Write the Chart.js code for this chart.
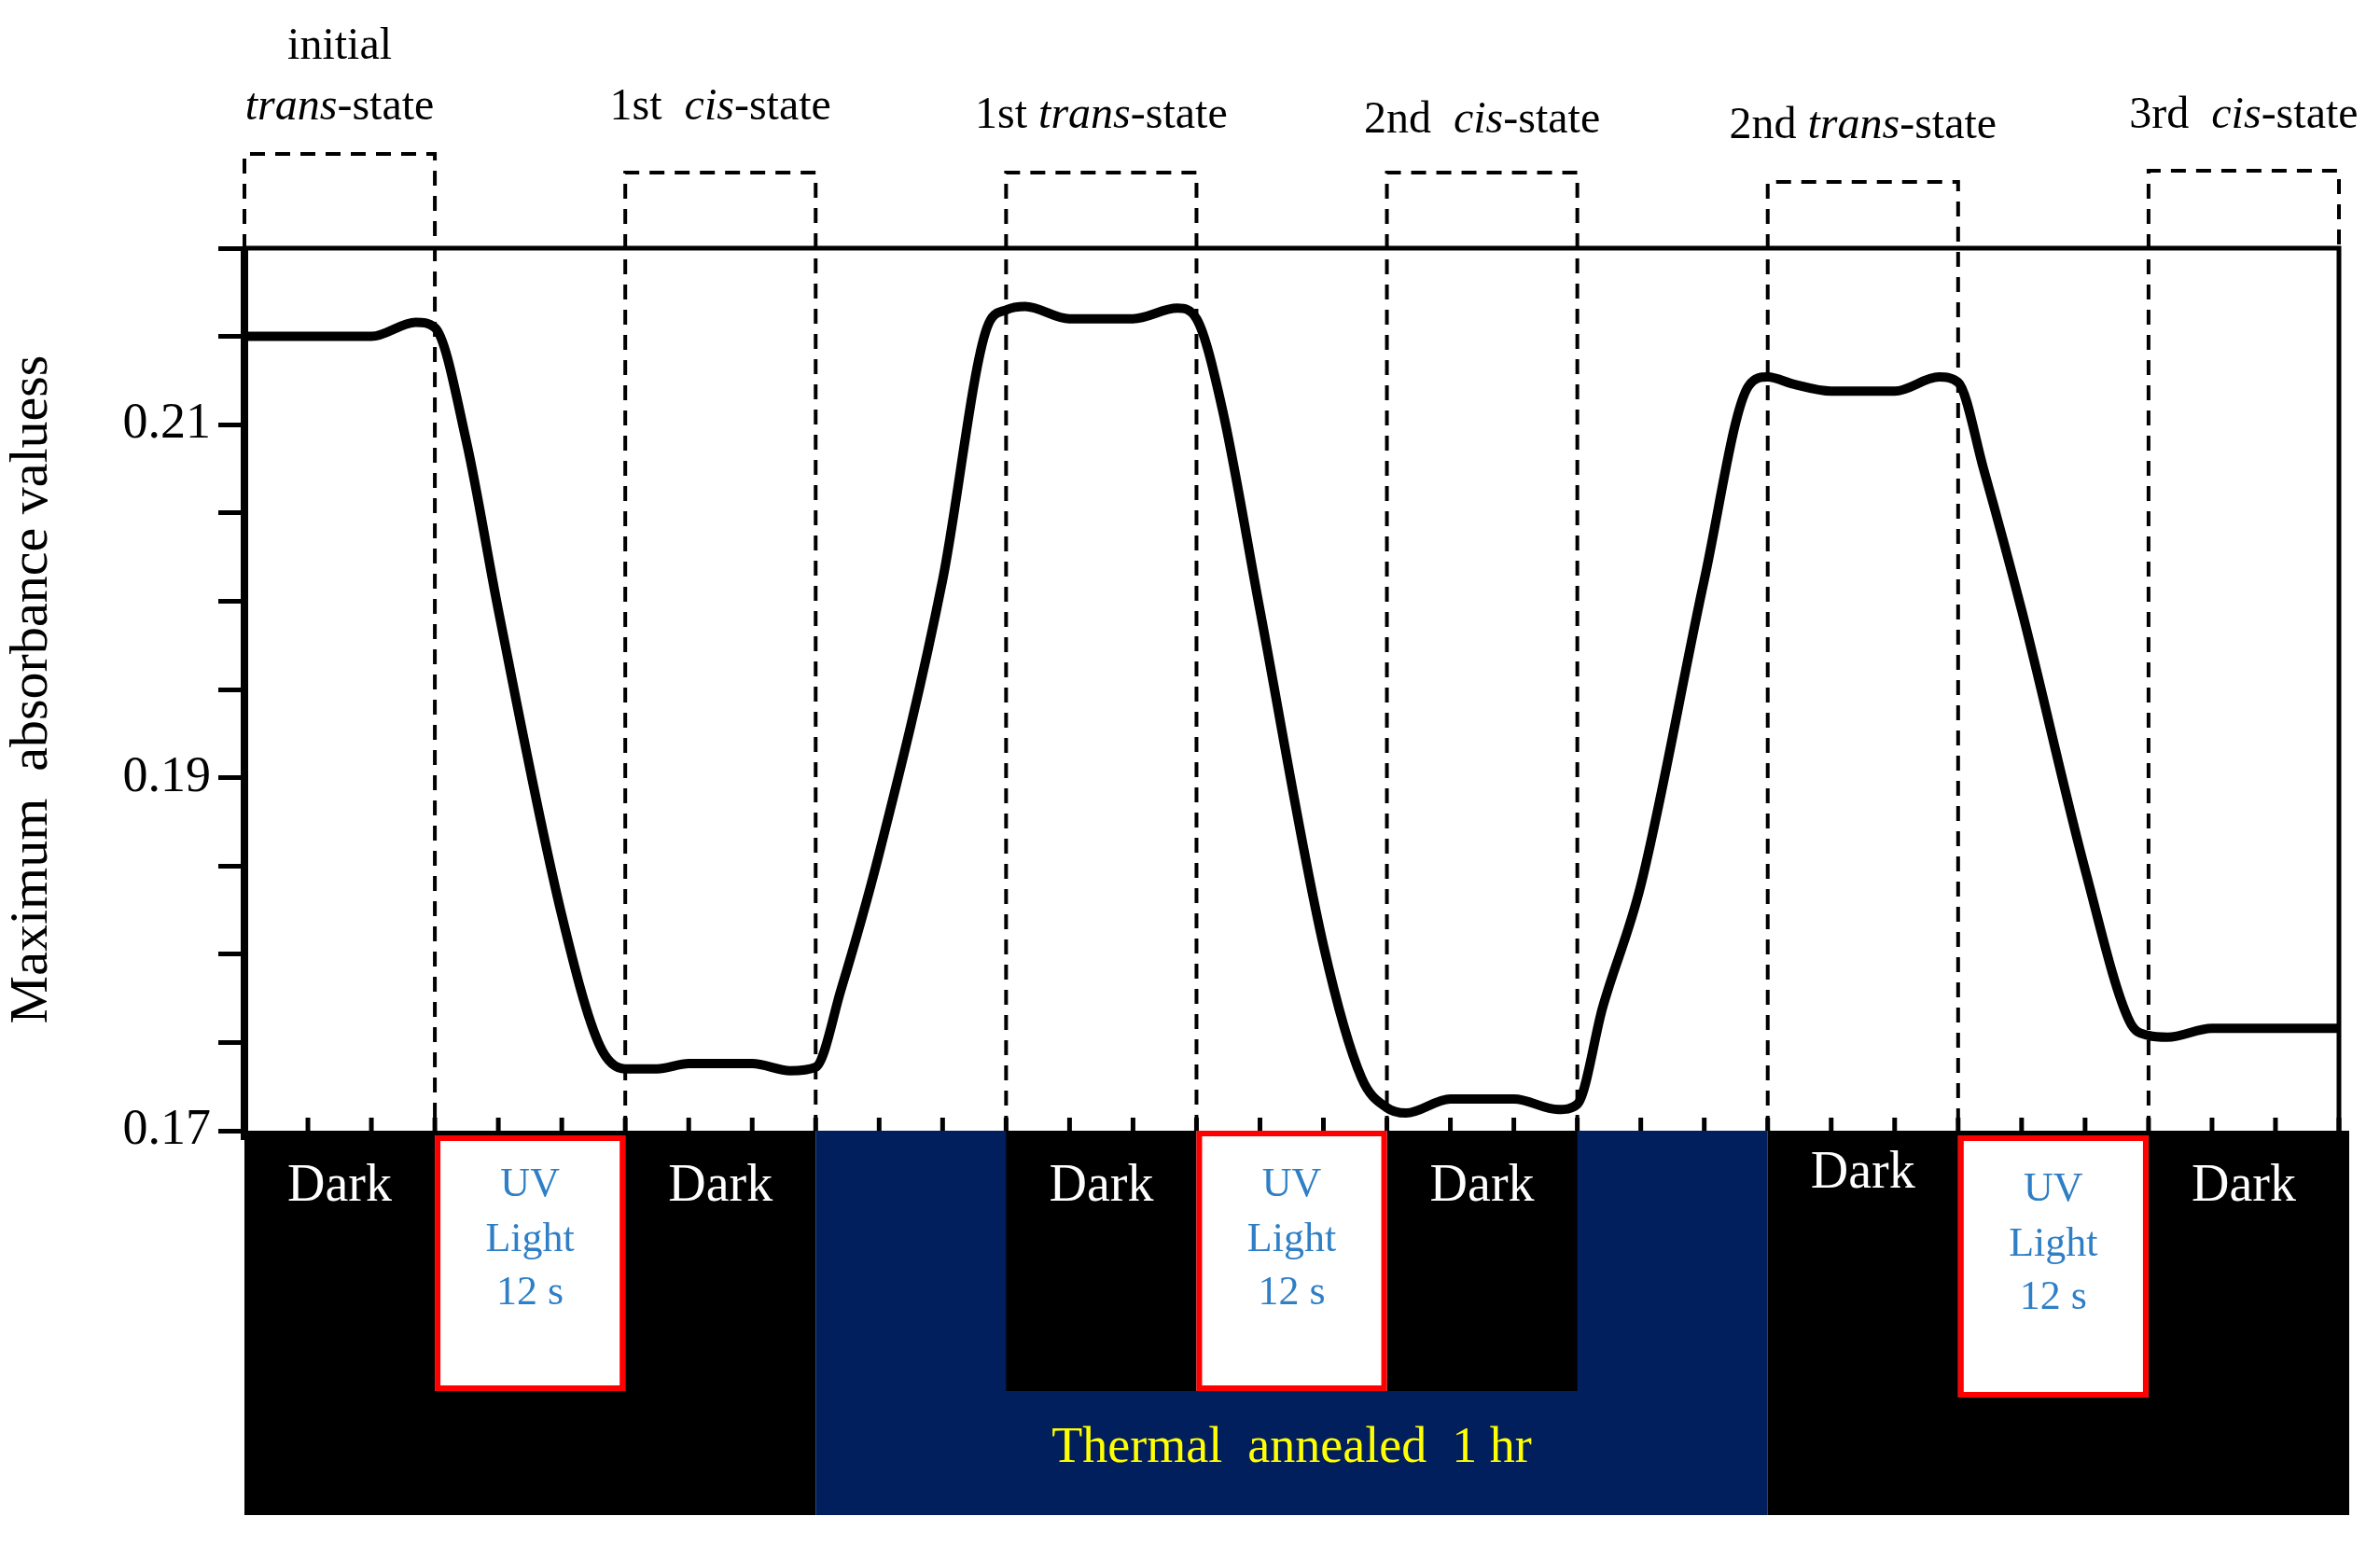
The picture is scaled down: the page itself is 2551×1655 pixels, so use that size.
<!DOCTYPE html>
<html>
<head>
<meta charset="utf-8">
<script src="https://cdn.jsdelivr.net/npm/chart.js@4/dist/chart.umd.min.js"></script>
<style>
  html, body { margin: 0; padding: 0; background: #fff; }
  canvas { display: block; }
</style>
</head>
<body>
<canvas id="chart" width="2551" height="1655"></canvas>
<script>
// --- data (x = time step, 3 per stage; y = maximum absorbance) ---
const timeX = [0, 1, 2, 2.7, 3, 3.5, 4, 5, 5.6, 6, 6.5, 7, 8, 8.6, 9,
  9.4, 10, 11, 11.7, 12, 12.3, 13, 14, 14.7, 15, 15.4, 16, 17, 17.6, 18,
  18.3, 19, 20, 20.7, 21, 21.4, 22, 23, 23.7, 24, 24.4, 25, 26, 26.7, 27,
  27.4, 28, 29, 29.7, 30, 30.3, 31, 32, 33];
const absorbance = [0.215, 0.215, 0.215, 0.2158, 0.2155, 0.209, 0.1995, 0.1822, 0.1748, 0.1735,
  0.1735, 0.1738, 0.1738, 0.1734, 0.1736,
  0.178, 0.1857, 0.2012, 0.2155, 0.2165, 0.2167, 0.216, 0.216, 0.2166, 0.216,
  0.211, 0.1995, 0.1805, 0.173, 0.1713, 0.171, 0.1718, 0.1718, 0.1712, 0.1715,
  0.177, 0.1839, 0.2012, 0.2122, 0.2127, 0.2123, 0.2119, 0.2119, 0.2127, 0.2124,
  0.2075, 0.1995, 0.1848, 0.1762, 0.1754, 0.1753, 0.1758, 0.1758, 0.1758];
const yTickLabels = [0.17, 0.19, 0.21];

// stage boxes on top: [from, to, box top px]
const stateBoxes = [[0, 3, 165], [6, 9, 185], [12, 15, 185], [18, 21, 185], [24, 27, 195], [30, 33, 183]];
// label pieces: [text, italic]
const stateLabels = [
  { x: 1.5, y: 114, parts: [["trans", true], ["-state", false]], extra: "initial" },
  { x: 7.5, y: 114, parts: [["1st  ", false], ["cis", true], ["-state", false]] },
  { x: 13.5, y: 123, parts: [["1st ", false], ["trans", true], ["-state", false]] },
  { x: 19.5, y: 128, parts: [["2nd  ", false], ["cis", true], ["-state", false]] },
  { x: 25.5, y: 134, parts: [["2nd ", false], ["trans", true], ["-state", false]] },
  { x: 31.5, y: 123, parts: [["3rd  ", false], ["cis", true], ["-state", false]] },
];
const uvStages = [[3, 6], [15, 18], [27, 30]];
const darkLabels = [[1.5, 1272], [7.5, 1272], [13.5, 1272], [19.5, 1272], [25.5, 1258], [31.5, 1272]];

const SERIF = "'Liberation Serif', 'DejaVu Serif', serif";

const overlay = {
  id: "overlay",
  afterDatasetsDraw(chart) {
    const ctx = chart.ctx;
    const xs = chart.scales.x;
    const a = chart.chartArea;
    const px = (v) => xs.getPixelForValue(v);
    ctx.save();

    // frame top + right
    ctx.strokeStyle = "#000";
    ctx.lineWidth = 5;
    ctx.beginPath();
    ctx.moveTo(a.left, a.top); ctx.lineTo(a.right, a.top); ctx.lineTo(a.right, a.bottom);
    ctx.stroke();
    ctx.lineWidth = 8;
    ctx.beginPath(); ctx.moveTo(a.left, a.top); ctx.lineTo(a.left, a.bottom + 10); ctx.stroke();

    // x ticks (inward)
    ctx.lineWidth = 5;
    for (let i = 0; i <= 33; i++) {
      ctx.beginPath(); ctx.moveTo(px(i), a.bottom); ctx.lineTo(px(i), a.bottom - 14); ctx.stroke();
    }

    // bottom panel
    const bTop = a.bottom, bBot = 1624, innerBot = 1491, rEdge = a.right + 11;
    ctx.fillStyle = "#000";
    ctx.fillRect(px(0), bTop, px(9) - px(0), bBot - bTop);
    ctx.fillStyle = "#001f5c";
    ctx.fillRect(px(9), bTop, px(24) - px(9), bBot - bTop);
    ctx.fillStyle = "#000";
    ctx.fillRect(px(12), bTop, px(21) - px(12), innerBot - bTop);
    ctx.fillRect(px(24), bTop, rEdge - px(24), bBot - bTop);

    uvStages.forEach(([f, t], i) => {
      const y0 = bTop + (i === 1 ? 0 : 5);
      ctx.fillStyle = "#fff";
      ctx.fillRect(px(f), y0, px(t) - px(f), innerBot - y0 + (i === 2 ? 7 : 0));
      ctx.strokeStyle = "#ff0000";
      ctx.lineWidth = 6;
      ctx.strokeRect(px(f) + 3, y0 + 3, px(t) - px(f) - 6, innerBot - y0 - 6 + (i === 2 ? 7 : 0));
      ctx.fillStyle = "#2e7fc6";
      ctx.font = "44px " + SERIF;
      ctx.textAlign = "center"; ctx.textBaseline = "middle";
      const cx = (px(f) + px(t)) / 2, off = i === 2 ? 5 : 0;
      ctx.fillText("UV", cx, 1270 + off);
      ctx.fillText("Light", cx, 1329 + off);
      ctx.fillText("12 s", cx, 1386 + off);
    });

    ctx.fillStyle = "#fff";
    ctx.font = "56px " + SERIF;
    ctx.textAlign = "center"; ctx.textBaseline = "middle";
    darkLabels.forEach(([v, y]) => ctx.fillText("Dark", px(v), y));
    ctx.fillStyle = "#ffff00";
    ctx.font = "54px " + SERIF;
    ctx.fillText("Thermal  annealed  1 hr", px(16.5), 1553);

    // dashed state boxes
    ctx.strokeStyle = "#000";
    ctx.lineWidth = 4;
    ctx.setLineDash([16, 11]);
    stateBoxes.forEach(([f, t, top]) => {
      ctx.beginPath();
      ctx.moveTo(px(f), a.bottom); ctx.lineTo(px(f), top);
      ctx.lineTo(px(t), top); ctx.lineTo(px(t), a.bottom);
      ctx.stroke();
    });
    ctx.setLineDash([]);

    // state labels
    ctx.fillStyle = "#000";
    ctx.textBaseline = "alphabetic";
    stateLabels.forEach((l) => {
      const fontOf = (it) => (it ? "italic " : "") + "48px " + SERIF;
      let w = 0;
      l.parts.forEach(([s, it]) => { ctx.font = fontOf(it); w += ctx.measureText(s).width; });
      let x = px(l.x) - w / 2;
      ctx.textAlign = "left";
      l.parts.forEach(([s, it]) => {
        ctx.font = fontOf(it);
        ctx.fillText(s, x, l.y + 14);
        x += ctx.measureText(s).width;
      });
      if (l.extra) {
        ctx.font = "48px " + SERIF;
        ctx.textAlign = "center";
        ctx.fillText(l.extra, px(l.x), 63);
      }
    });
    ctx.restore();
  },
};

new Chart(document.getElementById("chart"), {
  type: "line",
  data: {
    datasets: [{
      data: timeX.map((x, i) => ({ x, y: absorbance[i] })),
      borderColor: "#000",
      borderWidth: 10,
      pointRadius: 0,
      cubicInterpolationMode: "monotone",
      fill: false,
    }],
  },
  options: {
    responsive: false,
    devicePixelRatio: 1,
    animation: false,
    layout: { padding: { left: 0, top: 266, right: 44, bottom: 1655 - 1212 } },
    plugins: { legend: { display: false }, tooltip: { enabled: false } },
    scales: {
      x: { type: "linear", min: 0, max: 33, display: false },
      y: {
        min: 0.17, max: 0.22,
        afterFit: (s) => { s.width = 262; },
        border: { display: false },
        grid: { drawOnChartArea: false, tickLength: 28, lineWidth: 5, color: "#000" },
        ticks: {
          stepSize: 0.005,
          color: "#000",
          font: { family: SERIF, size: 54 },
          padding: 8,
          callback: (v) => {
            const hit = yTickLabels.find((t) => Math.abs(t - v) < 1e-6);
            return hit !== undefined ? hit.toFixed(2) : "";
          },
        },
        title: {
          display: true,
          text: "Maximum  absorbance valuess",
          color: "#000",
          font: { family: SERIF, size: 58 },
          padding: 0,
        },
      },
    },
  },
  plugins: [overlay],
});
</script>
</body>
</html>
